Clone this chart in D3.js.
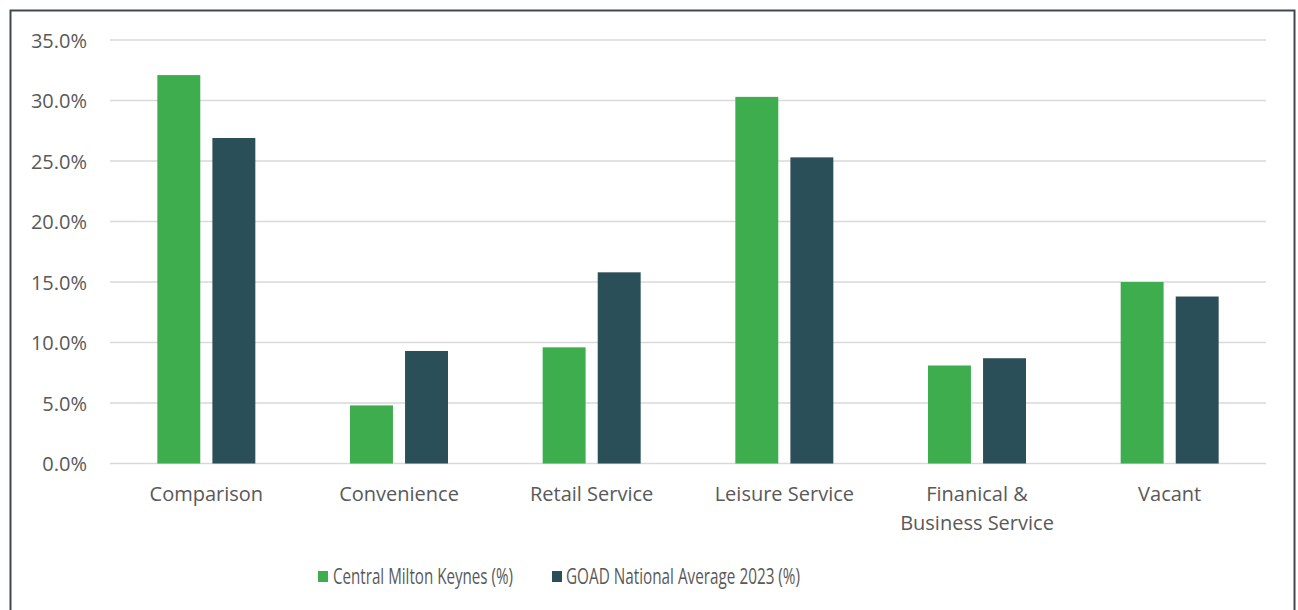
<!DOCTYPE html>
<html>
<head>
<meta charset="utf-8">
<script src="https://cdn.jsdelivr.net/npm/d3@7"></script>
<style>
  html, body { margin: 0; padding: 0; background: #fff; }
  svg { display: block; }
  text { font-family: "Open Sans", "Noto Sans", sans-serif; fill: #595959; }
</style>
</head>
<body>
<svg id="chart" width="1298" height="610"></svg>
<script>
// Retail unit mix by category
const categories = ["Comparison", "Convenience", "Retail Service", "Leisure Service", "Finanical & Business Service", "Vacant"];
const categoryLines = [["Comparison"], ["Convenience"], ["Retail Service"], ["Leisure Service"], ["Finanical &", "Business Service"], ["Vacant"]];
const seriesNames = ["Central Milton Keynes (%)", "GOAD National Average 2023 (%)"];
const centralMK = [32.1, 4.8, 9.6, 30.3, 8.1, 15.0];
const goadAverage = [26.9, 9.3, 15.8, 25.3, 8.7, 13.8];
const yTicks = [0, 5, 10, 15, 20, 25, 30, 35];
const colors = ["#3dad4e", "#2b4f58"];

const svg = d3.select("#chart");

// outer frame
svg.append("rect")
  .attr("x", 10.5).attr("y", 10.5)
  .attr("width", 1284).attr("height", 620)
  .attr("fill", "none").attr("stroke", "#404753").attr("stroke-width", 2);

const plot = { left: 110, right: 1266, top: 40, bottom: 463.5 };

const y = d3.scaleLinear().domain([0, 35]).range([plot.bottom, plot.top]);
const x0 = d3.scaleBand().domain(categories).range([plot.left, plot.right]).padding(0);
const groupWidth = 98;
const x1 = d3.scaleBand().domain(seriesNames).range([0, groupWidth]).paddingInner(0.22).paddingOuter(0);

// gridlines
svg.append("g").selectAll("line").data(yTicks).join("line")
  .attr("x1", plot.left).attr("x2", plot.right)
  .attr("y1", d => y(d)).attr("y2", d => y(d))
  .attr("stroke", "#d9d9d9").attr("stroke-width", 1.5);

// y tick labels
const yAxis = d3.axisLeft(y).tickValues(yTicks).tickSize(0).tickPadding(0)
  .tickFormat(d => d.toFixed(1) + "%");
const gy = svg.append("g").attr("transform", "translate(87,0)").call(yAxis);
gy.select(".domain").remove();
gy.selectAll("text").attr("font-size", 20).attr("dy", "0.36em")
  .style("font-family", '"Open Sans", sans-serif').attr("fill", "#595959");

// bars
const rows = categories.map((c, i) => ({ cat: c, values: [centralMK[i], goadAverage[i]] }));
const groups = svg.append("g").selectAll("g").data(rows).join("g")
  .attr("transform", d => `translate(${x0(d.cat) + (x0.bandwidth() - groupWidth) / 2},0)`);
groups.selectAll("rect").data(d => d.values.map((v, j) => ({ s: seriesNames[j], v, j }))).join("rect")
  .attr("x", d => x1(d.s))
  .attr("width", x1.bandwidth())
  .attr("y", d => y(d.v))
  .attr("height", d => y(0) - y(d.v))
  .attr("fill", d => colors[d.j]);

// category labels
const xl = svg.append("g");
categories.forEach((c, i) => {
  const cx = x0(c) + x0.bandwidth() / 2;
  const t = xl.append("text")
    .attr("x", cx)
    .attr("y", 501)
    .attr("text-anchor", "middle")
    .attr("font-size", 20);
  categoryLines[i].forEach((ln, k) => {
    t.append("tspan").attr("x", cx).attr("dy", k === 0 ? 0 : 29).text(ln);
  });
});

// legend
const legendItems = [{ x: 318, tx: 333, w: 180 }, { x: 552, tx: 566, w: 234 }];
const lg = svg.append("g");
seriesNames.forEach((s, i) => {
  lg.append("rect").attr("x", legendItems[i].x).attr("y", 571).attr("width", 10).attr("height", 11).attr("fill", colors[i]);
  lg.append("text").attr("x", legendItems[i].tx).attr("y", 584).attr("font-size", 21)
    .attr("textLength", legendItems[i].w).attr("lengthAdjust", "spacingAndGlyphs").text(s);
});
</script>
</body>
</html>
